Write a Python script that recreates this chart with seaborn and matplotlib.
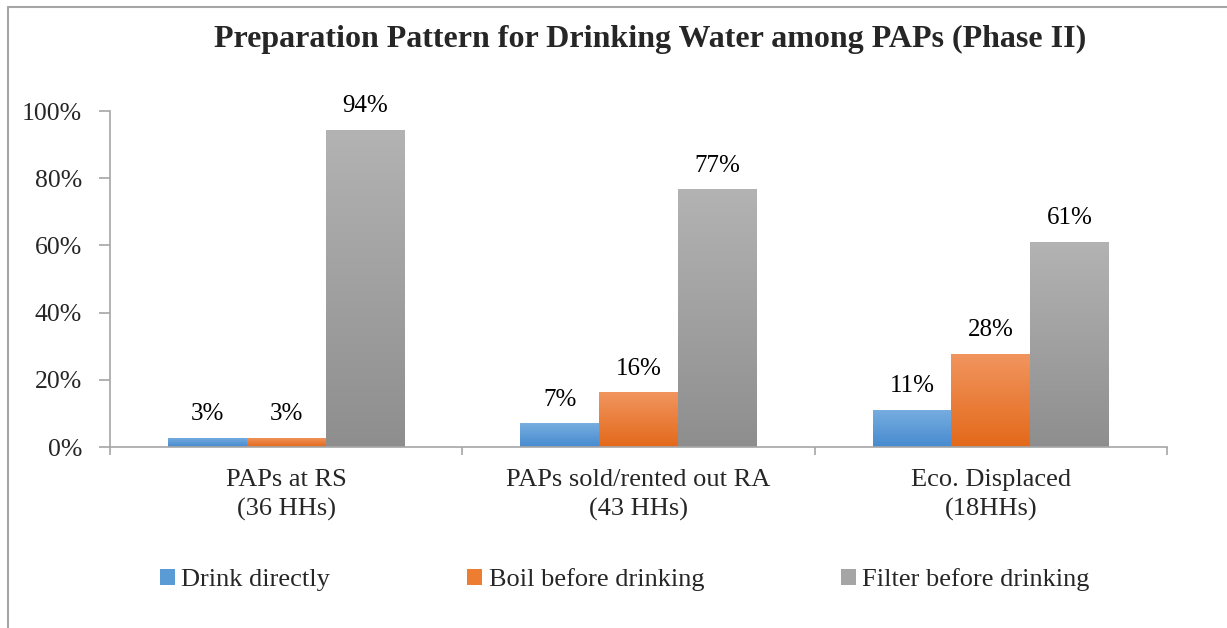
import numpy as np
import pandas as pd
import matplotlib
matplotlib.use("Agg")
import matplotlib.pyplot as plt
import seaborn as sns
from matplotlib.colors import LinearSegmentedColormap
from matplotlib.patches import Patch
from matplotlib.lines import Line2D

# ---- data (shares of households) ----
categories = ["PAPs at RS\n(36 HHs)", "PAPs sold/rented out RA\n(43 HHs)", "Eco. Displaced\n(18HHs)"]
series = ["Drink directly", "Boil before drinking", "Filter before drinking"]
drink_directly = [0.028, 0.070, 0.111]
boil_before = [0.028, 0.163, 0.278]
filter_before = [0.944, 0.767, 0.611]

title = "Preparation Pattern for Drinking Water among PAPs (Phase II)"
ytick_vals = [0, 0.2, 0.4, 0.6, 0.8, 1.0]
ytick_labels = ["0%", "20%", "40%", "60%", "80%", "100%"]

# office-like colours, gradient light (top) -> dark (bottom)
base_colors = ["#5b9bd5", "#ed7d31", "#a5a5a5"]
grad_colors = [("#78aee0", "#468acf"), ("#f1955f", "#e3691a"), ("#b3b3b3", "#8e8e8e")]
axis_grey = "#a6a6a6"

df = pd.DataFrame({
    "category": categories * 3,
    "series": [s for s in series for _ in categories],
    "value": drink_directly + boil_before + filter_before,
})

sns.set_style("white")
plt.rcParams["font.family"] = ["Liberation Serif", "DejaVu Serif"]

fig = plt.figure(figsize=(12.27, 6.28), dpi=100)
ax = fig.add_axes([110 / 1227, 1 - 447 / 628, (1167 - 110) / 1227, (447 - 111) / 628])

sns.barplot(data=df, x="category", y="value", hue="series", order=categories,
            hue_order=series, palette=base_colors, width=0.67, gap=0,
            saturation=1, legend=False, ax=ax)

ax.set_xlim(-0.5, 2.5)
ax.set_ylim(0, 1.0)

# gradient fill clipped to each bar
for cont, (c_top, c_bot) in zip(ax.containers, grad_colors):
    cmap = LinearSegmentedColormap.from_list("g", [c_bot, c_top])
    grad = np.linspace(0, 1, 256).reshape(-1, 1)
    for bar in cont:
        x, w, h = bar.get_x(), bar.get_width(), bar.get_height()
        im = ax.imshow(grad, cmap=cmap, origin="lower", aspect="auto",
                       extent=[x, x + w, 0, h], zorder=bar.get_zorder() + 0.1)
        im.set_clip_path(bar)
    ax.bar_label(cont, labels=[f"{v * 100:.0f}%" for v in cont.datavalues],
                 padding=9, fontsize=18, color="black")

ax.set_xlim(-0.5, 2.5)
ax.set_ylim(0, 1.0)

# axes styling
for side in ["top", "right"]:
    ax.spines[side].set_visible(False)
for side in ["left", "bottom"]:
    ax.spines[side].set_color(axis_grey)
    ax.spines[side].set_linewidth(1.2)

ax.set_yticks(ytick_vals)
ax.set_yticklabels(ytick_labels, fontsize=18.5)
ax.tick_params(axis="y", left=True, length=8, width=1.2, color=axis_grey, pad=12)

ax.set_xticks(range(len(categories)))
ax.set_xticklabels(categories, fontsize=19, linespacing=1.38)
ax.set_xticks([-0.5, 0.5, 1.5, 2.5], minor=True)
ax.tick_params(axis="x", which="major", bottom=False, length=0, pad=16)
ax.tick_params(axis="x", which="minor", bottom=True, length=6, width=1.2, color=axis_grey)
ax.set_xlabel("")
ax.set_ylabel("")
ax.grid(False)

# title
fig.text(650 / 1227, 1 - 39 / 628, title, ha="center", va="center",
         fontsize=23, fontweight="bold")

# legend
handles = [Patch(facecolor=c, edgecolor="none") for c in base_colors]
fig.legend(handles, series, loc="center", bbox_to_anchor=(625 / 1227, 1 - 580 / 628),
           ncol=3, frameon=False, fontsize=19, handlelength=0.55, handleheight=0.55,
           handletextpad=0.25, columnspacing=5.2)

# partial chart frame (top and left edges)
fig.add_artist(Line2D([8 / 1227, 1.0], [1 - 7 / 628, 1 - 7 / 628], color=axis_grey, lw=1.5))
fig.add_artist(Line2D([8 / 1227, 8 / 1227], [1 - 7 / 628, 0.0], color=axis_grey, lw=1.5))

fig.savefig("out.png", dpi=100)
